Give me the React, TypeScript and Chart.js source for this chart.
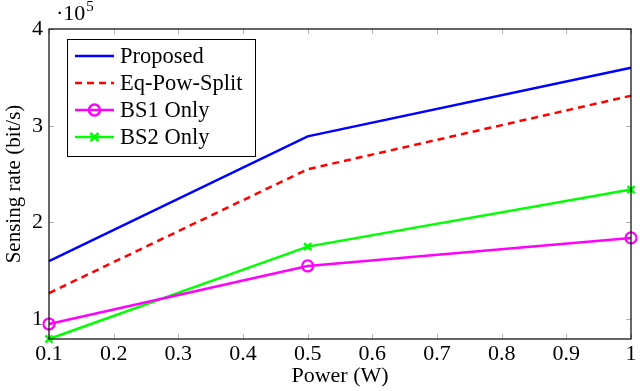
import React, { useEffect, useRef } from "react";
import { Chart, registerables } from "chart.js";

Chart.register(...registerables);

const powers = [0.1, 0.5, 1];
const proposed = [160000, 289000, 360000];
const eqPowSplit = [127000, 255000, 331000];
const bs1Only = [95000, 155000, 184000];
const bs2Only = [79500, 175000, 234000];
const xTicks = [0.1, 0.2, 0.3, 0.4, 0.5, 0.6, 0.7, 0.8, 0.9, 1];
const yTicks = [100000, 200000, 300000, 400000];
const seriesNames = ["Proposed", "Eq-Pow-Split", "BS1 Only", "BS2 Only"];

const FONT = "'Liberation Serif', 'DejaVu Serif', serif";

const framePlugin = {
  id: "frame",
  beforeDatasetsDraw(chart: any) {
    const { ctx, chartArea: a, scales } = chart;
    ctx.save();
    ctx.strokeStyle = "#b4b4b4";
    ctx.lineWidth = 1;
    const L = 5;
    for (const v of xTicks) {
      const x = Math.round(scales.x.getPixelForValue(v)) + 0.5;
      ctx.beginPath();
      ctx.moveTo(x, a.bottom);
      ctx.lineTo(x, a.bottom - L);
      ctx.moveTo(x, a.top);
      ctx.lineTo(x, a.top + L);
      ctx.stroke();
    }
    for (const v of yTicks) {
      const y = Math.round(scales.y.getPixelForValue(v)) + 0.5;
      ctx.beginPath();
      ctx.moveTo(a.left, y);
      ctx.lineTo(a.left + L, y);
      ctx.moveTo(a.right, y);
      ctx.lineTo(a.right - L, y);
      ctx.stroke();
    }
    ctx.restore();
  },
  afterDatasetsDraw(chart: any) {
    const { ctx, chartArea: a } = chart;
    ctx.save();
    ctx.strokeStyle = "#000";
    ctx.lineWidth = 1.2;
    ctx.strokeRect(a.left, a.top, a.right - a.left, a.bottom - a.top);
    // exponent label
    ctx.fillStyle = "#000";
    ctx.textBaseline = "alphabetic";
    ctx.textAlign = "left";
    ctx.font = `22px ${FONT}`;
    ctx.fillText("·10", a.left + 7, 20);
    const w = ctx.measureText("·10").width;
    ctx.font = `15px ${FONT}`;
    ctx.fillText("5", a.left + 7 + w + 1, 11);

    // legend
    const bx = 67, by = 39, bw = 188, bh = 117;
    ctx.fillStyle = "#fff";
    ctx.fillRect(bx, by, bw, bh);
    ctx.strokeStyle = "#000";
    ctx.lineWidth = 1;
    ctx.strokeRect(bx + 0.5, by + 0.5, bw, bh);
    const rowY = [56, 83, 110, 137];
    chart.data.datasets.forEach((ds: any, i: number) => {
      const y = rowY[i];
      ctx.save();
      ctx.strokeStyle = ds.borderColor;
      ctx.lineWidth = 2.5;
      ctx.setLineDash(ds.borderDash || []);
      ctx.beginPath();
      ctx.moveTo(75, y);
      ctx.lineTo(114, y);
      ctx.stroke();
      ctx.setLineDash([]);
      if (ds.pointStyle === "circle" && ds.pointRadius > 0) {
        ctx.beginPath();
        ctx.arc(94.5, y, 5.5, 0, Math.PI * 2);
        ctx.stroke();
      } else if (ds.pointStyle === "crossRot" && ds.pointRadius > 0) {
        const r = 4;
        ctx.beginPath();
        ctx.moveTo(94.5 - r, y - r);
        ctx.lineTo(94.5 + r, y + r);
        ctx.moveTo(94.5 - r, y + r);
        ctx.lineTo(94.5 + r, y - r);
        ctx.stroke();
      }
      ctx.restore();
      ctx.fillStyle = "#000";
      ctx.font = `22.5px ${FONT}`;
      ctx.textBaseline = "middle";
      ctx.textAlign = "left";
      ctx.fillText(ds.label, 120, y + 1);
    });
    ctx.restore();
  },
};

export default function App() {
  const ref = useRef<HTMLCanvasElement>(null);
  useEffect(() => {
    if (!ref.current) return;
    const mk = (vals: number[]) => powers.map((p, i) => ({ x: p, y: vals[i] }));
    const chart = new Chart(ref.current, {
      type: "line",
      data: {
        datasets: [
          {
            label: seriesNames[0],
            data: mk(proposed),
            borderColor: "#0000ff",
            borderWidth: 2.5,
            pointRadius: 0,
            pointStyle: "circle",
            clip: false,
          },
          {
            label: seriesNames[1],
            data: mk(eqPowSplit),
            borderColor: "#ff0000",
            borderWidth: 2.5,
            borderDash: [7, 5],
            pointRadius: 0,
            pointStyle: "circle",
            clip: false,
          },
          {
            label: seriesNames[2],
            data: mk(bs1Only),
            borderColor: "#ff00ff",
            borderWidth: 2.5,
            pointRadius: 5.5,
            pointBorderWidth: 2.2,
            pointStyle: "circle",
            pointBackgroundColor: "rgba(0,0,0,0)",
            pointBorderColor: "#ff00ff",
            clip: false,
          },
          {
            label: seriesNames[3],
            data: mk(bs2Only),
            borderColor: "#00ff00",
            borderWidth: 2.5,
            pointRadius: 5,
            pointBorderWidth: 2.5,
            pointStyle: "crossRot",
            pointBorderColor: "#00ff00",
            clip: false,
          },
        ] as any,
      },
      options: {
        animation: false,
        responsive: false,
        maintainAspectRatio: false,
        layout: { padding: { top: 29, right: 9, left: 2, bottom: 2 } },
        plugins: { legend: { display: false }, tooltip: { enabled: false } },
        elements: { line: { tension: 0 } },
        scales: {
          x: {
            type: "linear",
            min: 0.1,
            max: 1,
            afterBuildTicks: (s: any) => {
              s.ticks = xTicks.map((v) => ({ value: v }));
            },
            afterFit: (s: any) => {
              s.height = 50;
            },
            grid: { display: false, drawTicks: false },
            border: { display: false },
            ticks: {
              color: "#000",
              font: { family: FONT, size: 22 },
              padding: 2,
              maxRotation: 0,
              autoSkip: false,
              callback: (v: any) => String(Math.round(Number(v) * 10) / 10),
            },
            title: {
              display: true,
              text: "Power (W)",
              color: "#000",
              font: { family: FONT, size: 22 },
              padding: { top: 0, bottom: 0 },
            },
          },
          y: {
            type: "linear",
            min: 79500,
            max: 400000,
            afterBuildTicks: (s: any) => {
              s.ticks = yTicks.map((v) => ({ value: v }));
            },
            afterFit: (s: any) => {
              s.width = 47;
            },
            grid: { display: false, drawTicks: false },
            border: { display: false },
            ticks: {
              color: "#000",
              font: { family: FONT, size: 22 },
              padding: 6,
              callback: (v: any) => String(Math.round(Number(v) / 100000)),
            },
            title: {
              display: true,
              text: "Sensing rate (bit/s)",
              color: "#000",
              font: { family: FONT, size: 21 },
              padding: { top: 0, bottom: 0 },
            },
          },
        },
      },
      plugins: [framePlugin],
    });
    return () => chart.destroy();
  }, []);
  return (
    <div style={{ position: "absolute", left: 0, top: 0, width: 640, height: 391, background: "#fff" }}>
      <canvas ref={ref} width={640} height={391} style={{ width: 640, height: 391 }} />
    </div>
  );
}
